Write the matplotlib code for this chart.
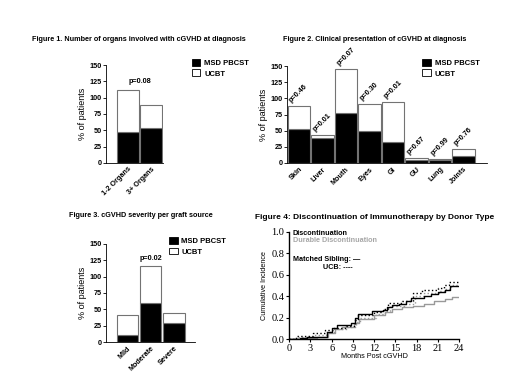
import matplotlib
matplotlib.use("Agg")
import matplotlib.pyplot as plt
from matplotlib.patches import Patch

plt.rcParams['font.family'] = ['Liberation Sans', 'DejaVu Sans']
plt.rcParams['font.weight'] = 'bold'

# data
organs = ['1-2 Organs', '3+ Organs']
organs_msd = [47, 53]
organs_ucbt = [64, 36]

sites = ['Skin', 'Liver', 'Mouth', 'Eyes', 'GI', 'GU', 'Lung', 'Joints']
sites_msd = [52, 38, 78, 50, 33, 5, 4, 10]
sites_ucbt = [37, 6, 68, 41, 62, 2, 2, 12]
sites_p = ['p=0.46', 'p=0.01', 'p=0.07', 'p=0.30', 'p=0.01', 'p=0.67', 'p=0.99', 'p=0.76']

severity = ['Mild', 'Moderate', 'Severe']
severity_msd = [11, 59, 29]
severity_ucbt = [30, 57, 15]

# cumulative incidence (months, value)
msd_t = [0, 1.5, 2.5, 5.3, 6.0, 6.8, 8.7, 9.3, 9.7, 11.7, 13.2, 13.8, 14.5, 15.5, 16.5, 17.2, 19.0, 20.0, 21.0, 22.0, 22.7, 24]
msd_v = [0, 0.01, 0.02, 0.07, 0.10, 0.13, 0.15, 0.20, 0.23, 0.26, 0.27, 0.30, 0.32, 0.33, 0.35, 0.38, 0.40, 0.42, 0.44, 0.46, 0.49, 0.49]
ucb_t = [0, 1.0, 3.3, 5.0, 6.3, 8.0, 9.3, 9.7, 12.0, 13.3, 14.0, 16.0, 17.5, 18.8, 21.0, 21.8, 22.5, 24]
ucb_v = [0, 0.03, 0.06, 0.08, 0.10, 0.12, 0.18, 0.22, 0.25, 0.28, 0.34, 0.35, 0.43, 0.46, 0.48, 0.50, 0.535, 0.535]
msd_dur_t = [0, 2.0, 4.0, 5.5, 6.5, 7.5, 9.2, 9.8, 12.0, 13.5, 14.5, 16.0, 17.5, 19.0, 20.5, 22.0, 23.0, 24]
msd_dur_v = [0, 0.01, 0.02, 0.06, 0.09, 0.11, 0.15, 0.19, 0.22, 0.25, 0.28, 0.30, 0.31, 0.33, 0.35, 0.37, 0.395, 0.395]
ucb_dur_t = [0, 1.2, 3.5, 5.2, 6.5, 8.2, 9.5, 10.0, 12.2, 13.5, 14.2, 16.2, 17.7, 19.0, 21.2, 22.0, 22.8, 24]
ucb_dur_v = [0, 0.02, 0.04, 0.07, 0.09, 0.11, 0.16, 0.20, 0.23, 0.26, 0.31, 0.33, 0.40, 0.43, 0.45, 0.47, 0.505, 0.505]

fig = plt.figure(figsize=(5.2, 3.87), dpi=100)
fs = 5.2


def stacked(ax, cats, msd, ucbt, xlim):
    x = list(range(len(cats)))
    ax.bar(x, msd, width=0.95, color='black', edgecolor='0.45', linewidth=0.8)
    ax.bar(x, ucbt, bottom=msd, width=0.95, color='white', edgecolor='0.45', linewidth=0.8)
    ax.set_ylim(0, 150)
    ax.set_yticks([0, 25, 50, 75, 100, 125, 150])
    ax.set_xlim(*xlim)
    ax.set_xticks(x)
    ax.set_xticklabels(cats, rotation=45, ha='right', rotation_mode='anchor', fontsize=fs)
    ax.tick_params(axis='y', labelsize=fs, length=2, width=0.6, pad=1)
    ax.tick_params(axis='x', length=0, pad=2)
    ax.spines['top'].set_visible(False)
    ax.spines['right'].set_visible(False)
    ax.spines['left'].set_linewidth(0.6)
    ax.spines['bottom'].set_linewidth(0.6)
    ax.set_ylabel('% of patients', fontsize=6.5, labelpad=2)


def legend(ax, x, y):
    handles = [Patch(facecolor='black', edgecolor='black', linewidth=0.6),
               Patch(facecolor='white', edgecolor='black', linewidth=0.6)]
    fig.legend(handles, ['MSD PBCST', 'UCBT'], loc='upper left', bbox_to_anchor=(x, y),
               frameon=False, fontsize=fs + 0.3, handlelength=1.1, handleheight=1.0,
               handletextpad=0.5, labelspacing=0.3, borderpad=0)


# Figure 1
ax1 = fig.add_axes([0.204, 0.579, 0.110, 0.253])
stacked(ax1, organs, organs_msd, organs_ucbt, (-0.96, 1.52))
ax1.text(0.5, 120, 'p=0.08', ha='center', va='bottom', fontsize=fs)
fig.text(0.267, 0.898, 'Figure 1. Number of organs involved with cGVHD at diagnosis',
         ha='center', va='center', fontsize=fs)
legend(ax1, 0.362, 0.857)

# Figure 2
ax2 = fig.add_axes([0.552, 0.579, 0.385, 0.250])
stacked(ax2, sites, sites_msd, sites_ucbt, (-0.5, 8.0))
for i, p in enumerate(sites_p):
    ax2.text(i - 0.25, sites_msd[i] + sites_ucbt[i] + 3, p, rotation=45,
             ha='left', va='bottom', rotation_mode='anchor', fontsize=fs)
fig.text(0.72, 0.898, 'Figure 2. Clinical presentation of cGVHD at diagnosis',
         ha='center', va='center', fontsize=fs)
legend(ax2, 0.805, 0.857)

# Figure 3
ax3 = fig.add_axes([0.204, 0.116, 0.171, 0.254])
stacked(ax3, severity, severity_msd, severity_ucbt, (-0.93, 2.93))
ax3.text(1, 122, 'p=0.02', ha='center', va='bottom', fontsize=fs)
fig.text(0.27, 0.443, 'Figure 3. cGVHD severity per graft source',
         ha='center', va='center', fontsize=fs)
legend(ax3, 0.318, 0.397)

# Figure 4
ax4 = fig.add_axes([0.556, 0.124, 0.327, 0.277])
ax4.step(msd_dur_t, msd_dur_v, where='post', color='0.6', lw=1.0)
ax4.step(ucb_dur_t, ucb_dur_v, where='post', color='0.6', lw=1.0, ls=':')
ax4.step(msd_t, msd_v, where='post', color='black', lw=1.0)
ax4.step(ucb_t, ucb_v, where='post', color='black', lw=1.0, ls=':')
ax4.set_xlim(0, 24)
ax4.set_ylim(0, 1.0)
ax4.set_xticks(range(0, 25, 3))
ax4.set_yticks([0.0, 0.2, 0.4, 0.6, 0.8, 1.0])
ax4.set_yticklabels(['0.0', '0.2', '0.4', '0.6', '0.8', '1.0'])
for lab in ax4.get_xticklabels() + ax4.get_yticklabels():
    lab.set_family('Liberation Serif')
    lab.set_fontweight('normal')
    lab.set_fontsize(7.5)
ax4.tick_params(length=2.5, width=0.8, pad=1)
ax4.spines['top'].set_visible(False)
ax4.spines['right'].set_visible(False)
ax4.spines['left'].set_linewidth(1.0)
ax4.spines['bottom'].set_linewidth(1.0)
ax4.set_xlabel('Months Post cGVHD', fontsize=5.2, labelpad=0)
ax4.set_ylabel('Cumulative Incidence', fontsize=5.2, labelpad=2)
ax4.text(0.5, 0.985, 'Discontinuation', fontsize=5.2, color='black', va='center')
ax4.text(0.5, 0.915, 'Durable Discontinuation', fontsize=5.2, color='0.65', va='center')
ax4.text(0.5, 0.745, 'Matched Sibling: \u2014', fontsize=5.2, va='center')
ax4.text(9.0, 0.665, 'UCB: ----', fontsize=5.2, va='center', ha='right')
fig.text(0.72, 0.437, 'Figure 4: Discontinuation of Immunotherapy by Donor Type',
         ha='center', va='center', fontsize=6.0)

fig.savefig('out.png', dpi=100)
